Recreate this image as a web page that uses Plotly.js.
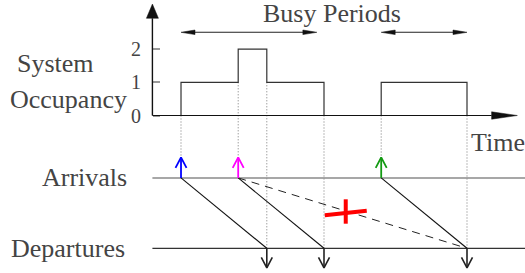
<!DOCTYPE html>
<html><head><meta charset="utf-8">
<script src="https://cdn.plot.ly/plotly-3.0.1.min.js"></script>
</head><body style="margin:0;background:#fff"><div id="chart"></div>
<script>
// ---------------- data ----------------
const stepTimes = [1, 3, 4, 6, 8, 11];
const occupancy = [1, 2, 1, 0, 1, 0];
const arrivals = [1, 3, 8];
const departures = [4, 6, 11];
const busyStarts = [1, 8];
const busyEnds = [5.75, 11];
const occTicks = [0, 1, 2];
const occTickLabels = ['0', '1', '2'];
const crossedArrival = 1;   // index into arrivals
const crossedDeparture = 2; // index into departures

// ---------------- styles / geometry ----------------
const arrivalColors = ['#0000ff', '#ff00ff', '#139a13'];
const X_RANGE = [-5.329, 13.028], Y_RANGE = [-4.744, 3.479];
const W = 525, H = 273;
const PXX = W / (X_RANGE[1] - X_RANGE[0]);   // px per time unit
const PXY = H / (Y_RANGE[1] - Y_RANGE[0]);   // px per y unit
const px = v => v / PXX, py = v => v / PXY;
const ARR_ROW = -1.88, DEP_ROW = -4.0;
const ARR_TIP = ARR_ROW + py(20.5), DEP_TIP = DEP_ROW - py(19.5);
const BUSY_Y = 2.506;

const traces = [];
function line(x, y, color, width, dash, shape) {
  traces.push({type: 'scatter', mode: 'lines', x, y, hoverinfo: 'skip',
    line: {color, width, dash: dash || 'solid', shape: shape || 'linear'}});
}
function tri(x, y, color) {
  traces.push({type: 'scatter', mode: 'lines', x, y, fill: 'toself', fillcolor: color,
    hoverinfo: 'skip', line: {color, width: 0.5}});
}

// dotted guide lines from occupancy plot down to event rows
const occAt = t => { let v = 0; stepTimes.forEach((s, i) => { if (s <= t) v = occupancy[i]; }); return v; };
const occBefore = t => { let v = 0; stepTimes.forEach((s, i) => { if (s < t) v = occupancy[i]; }); return v; };
const dx = [], dy = [];
arrivals.forEach(t => { dx.push(t, t, null); dy.push(Math.min(occAt(t), occBefore(t)), ARR_TIP, null); });
departures.forEach(t => { dx.push(t, t, null); dy.push(Math.min(occAt(t), occBefore(t)), DEP_ROW, null); });
line(dx, dy, '#777', 1, '1px,2px');

// occupancy step curve
line([stepTimes[0]].concat(stepTimes), [0].concat(occupancy), '#333', 1.2, 'solid', 'hv');

// axes with arrowheads
const yBase = 2.928, yTip = 3.358;
line([0, 0], [0, yBase], '#111', 1.4);
tri([-px(6), 0, px(6), -px(6)], [yBase, yTip, yBase, yBase], '#111');
const xBase = 11.86, xTip = 12.76;
line([0, xBase], [0, 0], '#111', 1.2);
tri([xBase, xTip, xBase, xBase], [-py(3.7), 0, py(3.7), -py(3.7)], '#111');

// busy period arrows
busyStarts.forEach((s, i) => {
  const e = busyEnds[i], L = px(14), hh = py(2.3);
  line([s + L * 0.5, e - L * 0.5], [BUSY_Y, BUSY_Y], '#222', 1.1);
  tri([s, s + L, s + L, s], [BUSY_Y, BUSY_Y + hh, BUSY_Y - hh, BUSY_Y], '#111');
  tri([e, e - L, e - L, e], [BUSY_Y, BUSY_Y + hh, BUSY_Y - hh, BUSY_Y], '#111');
});

// event rows
line([0, X_RANGE[1]], [ARR_ROW, ARR_ROW], '#8a8a8a', 1.5);
line([0, X_RANGE[1]], [DEP_ROW, DEP_ROW], '#333', 1.2);

// service links
arrivals.forEach((a, i) => line([a, departures[i]], [ARR_ROW, DEP_ROW], '#111', 1.1));
const ca = arrivals[crossedArrival], cd = departures[crossedDeparture];
line([ca, cd], [ARR_ROW, DEP_ROW], '#222', 1, '8px,6px');

// arrows
const aw = px(5.5), ah = py(10.5);
arrivals.forEach((t, i) => {
  line([t, t, null, t - aw, t, t + aw], [ARR_ROW, ARR_TIP, null, ARR_TIP - ah, ARR_TIP, ARR_TIP - ah],
       arrivalColors[i], 1.8);
});
departures.forEach(t => {
  line([t, t, null, t - aw, t, t + aw], [DEP_ROW, DEP_TIP, null, DEP_TIP + ah, DEP_TIP, DEP_TIP + ah],
       '#222', 1.6);
});

// red cross on the rejected link
const f = 0.47;
const cx = ca + (cd - ca) * f, cy = ARR_ROW + (DEP_ROW - ARR_ROW) * f;
line([cx - px(21), cx + px(21)], [cy - py(2.2) - py(2), cy + py(2.2) - py(2)], '#ff0000', 4);
line([cx, cx], [cy - py(12.2) - py(0.5), cy + py(12.2) - py(0.5)], '#ff0000', 4);

const txt = (text, x, y, xanchor, size) => ({text, x, y, xanchor,
  yanchor: 'middle', showarrow: false, font: {family: 'Liberation Serif', size: size || 26}});

const annotations = [
  txt('Busy Periods', 6.27, 3.06, 'center'),
  txt('System', -3.406, 1.566, 'center'),
  txt('Occupancy', -2.951, 0.482, 'center'),
  txt('Time', 11.06, -0.828, 'left'),
  txt('Arrivals', -0.818, ARR_ROW, 'right'),
  txt('Departures', -0.888, DEP_ROW, 'right')
].concat(occTicks.map((v, i) => txt(occTickLabels[i], -px(9), v, 'right', 20)));

const layout = {
  width: W, height: H, margin: {l: 0, r: 0, t: 0, b: 0},
  showlegend: false, hovermode: false,
  modebar: {bgcolor: 'rgba(0,0,0,0)', color: 'rgba(0,0,0,0)', activecolor: 'rgba(0,0,0,0)'},
  xaxis: {range: X_RANGE, visible: false},
  yaxis: {range: Y_RANGE, anchor: 'free', position: (0 - X_RANGE[0]) / (X_RANGE[1] - X_RANGE[0]),
    tickvals: occTicks, showticklabels: false, ticks: 'inside', ticklen: 7, tickwidth: 1.5,
    tickcolor: '#999', showgrid: false, zeroline: false, showline: false, layer: 'below traces'},
  annotations: annotations
};
Plotly.newPlot('chart', traces, layout, {displaylogo: false});
</script></body></html>
